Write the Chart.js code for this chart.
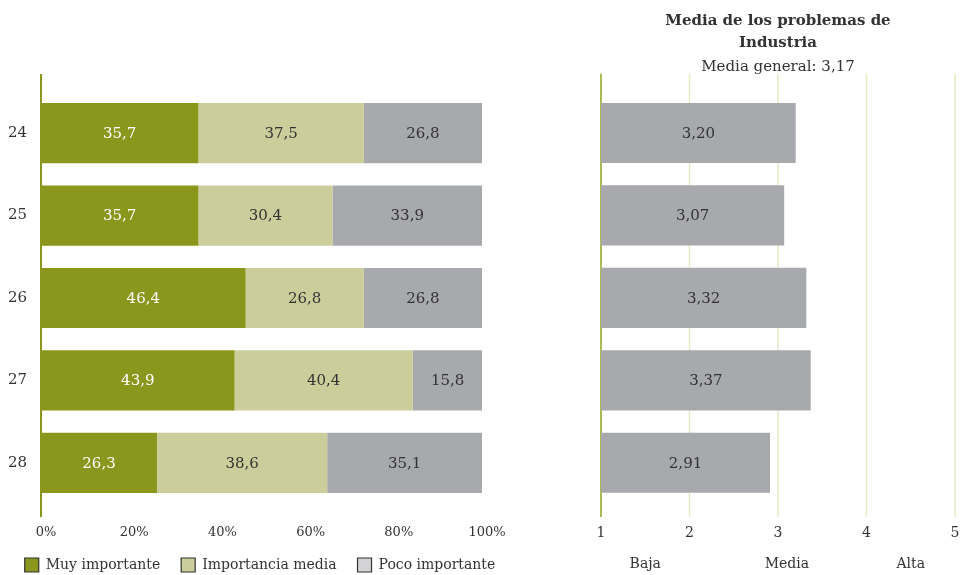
<!DOCTYPE html>
<html>
<head>
<meta charset="utf-8">
<script src="https://cdn.jsdelivr.net/npm/chart.js@4/dist/chart.umd.min.js"></script>
<style>
    body { margin: 0; background: #fff; }
    #wrap { position: relative; width: 965px; height: 575px; }
    #chartShares { position: absolute; left: 0; top: 0; }
    #chartMeans { position: absolute; left: 540px; top: 0; }
</style>
</head>
<body>
<div id="wrap">
    <canvas id="chartShares" width="520" height="575"></canvas>
    <canvas id="chartMeans" width="425" height="575"></canvas>
</div>
<script>
const problems = ["24", "25", "26", "27", "28"];
const muyImportante = [35.7, 35.7, 46.4, 43.9, 26.3];
const importanciaMedia = [37.5, 30.4, 26.8, 40.4, 38.6];
const pocoImportante = [26.8, 33.9, 26.8, 15.8, 35.1];
const medias = [3.20, 3.07, 3.32, 3.37, 2.91];
const mediaGeneral = 3.17;
const escalaTexto = ["Baja", "Media", "Alta"];
const escalaPos = [1.5, 3.1, 4.5];

const FONT = "'DejaVu Serif', serif";
const TEXT = "#333333";
Chart.defaults.font.family = FONT;
Chart.defaults.font.size = 14;
Chart.defaults.color = TEXT;

const coma = (v, d) => v.toFixed(d).replace(".", ",");

// values written in the middle of every bar
const barValues = {
    id: "barValues",
    afterDatasetsDraw(chart, args, opts) {
        const ctx = chart.ctx;
        ctx.save();
        ctx.font = "15px " + FONT;
        ctx.textAlign = "center";
        ctx.textBaseline = "middle";
        chart.data.datasets.forEach((ds, i) => {
            const meta = chart.getDatasetMeta(i);
            meta.data.forEach((bar, j) => {
                const p = bar.getProps(["x", "y", "base"], true);
                ctx.fillStyle = ds.labelColor || TEXT;
                ctx.fillText(coma(ds.data[j], opts.decimals), (p.x + p.base) / 2, p.y + 1);
            });
        });
        ctx.restore();
    }
};

// axis line and grid lines, a bit taller than the plot area
const axisLines = {
    id: "axisLines",
    beforeDatasetsDraw(chart, args, opts) {
        const { ctx, chartArea: a, scales } = chart;
        const top = a.top - 18, bottom = a.bottom + 13;
        ctx.save();
        ctx.lineWidth = 1.5;
        ctx.strokeStyle = opts.gridColor;
        (opts.grid || []).forEach(v => {
            const x = scales.x.getPixelForValue(v);
            ctx.beginPath();
            ctx.moveTo(x, top);
            ctx.lineTo(x, bottom);
            ctx.stroke();
        });
        ctx.lineWidth = 2;
        ctx.strokeStyle = opts.axisColor;
        ctx.beginPath();
        ctx.moveTo(a.left, top);
        ctx.lineTo(a.left, bottom);
        ctx.stroke();
        ctx.restore();
    }
};

// pulls the legend row a few pixels lower
const legendDrop = {
    id: "legendDrop",
    afterInit(chart, args, opts) {
        const legend = chart.legend;
        if (!legend) return;
        const fit = legend.fit;
        legend.fit = function () { fit.call(this); this.height -= opts.by; };
    }
};

const noSidePadding = s => { s.paddingLeft = 0; s.paddingRight = 0; };
const legendFill = ["#8b961d", "#cbce9b", "#d4d4d6"];

new Chart(document.getElementById("chartShares"), {
    type: "bar",
    data: {
        labels: problems,
        datasets: [
            { label: "Muy importante", data: muyImportante, backgroundColor: "#8b961d", labelColor: "#ffffff" },
            { label: "Importancia media", data: importanciaMedia, backgroundColor: "#cbce9b" },
            { label: "Poco importante", data: pocoImportante, backgroundColor: "#a8a9ad" }
        ]
    },
    options: {
        indexAxis: "y",
        responsive: false,
        animation: false,
        categoryPercentage: 1,
        barPercentage: 0.73,
        layout: { padding: { top: 92, right: 0, bottom: 0, left: 0 } },
        scales: {
            x: {
                stacked: true, min: 0, max: 100,
                grid: { display: false, drawTicks: false },
                border: { display: false },
                ticks: { stepSize: 20, padding: 21, labelOffset: 5, font: { size: 13 }, callback: v => v + "%" },
                afterFit: s => { s.height = 33; s.paddingLeft = 0; s.paddingRight = 38; }
            },
            y: {
                stacked: true,
                grid: { display: false, drawTicks: false },
                border: { display: false },
                ticks: { padding: 14, font: { size: 15 } },
                afterFit: s => { s.width = 41; }
            }
        },
        plugins: {
            tooltip: { enabled: false },
            legend: {
                position: "bottom",
                labels: {
                    boxWidth: 14, boxHeight: 14, padding: 21,
                    font: { size: 14 },
                    generateLabels: chart => chart.data.datasets.map((ds, i) => ({
                        text: ds.label,
                        fillStyle: legendFill[i],
                        strokeStyle: "#333333",
                        lineWidth: 1.2,
                        fontColor: TEXT,
                        datasetIndex: i
                    }))
                }
            },
            legendDrop: { by: 7 },
            barValues: { decimals: 1 },
            axisLines: { axisColor: "#8b961d" }
        }
    },
    plugins: [barValues, axisLines, legendDrop]
});

new Chart(document.getElementById("chartMeans"), {
    type: "bar",
    data: {
        labels: problems,
        datasets: [{ label: "Media", data: medias, backgroundColor: "#a8a9ad", base: 1 }]
    },
    options: {
        indexAxis: "y",
        responsive: false,
        animation: false,
        categoryPercentage: 1,
        barPercentage: 0.73,
        layout: { padding: { top: 0, right: 10, bottom: 0, left: 0 } },
        scales: {
            x: {
                min: 1, max: 5,
                grid: { display: false, drawTicks: false },
                border: { display: false },
                ticks: { stepSize: 1, padding: 21, font: { size: 14 } },
                afterFit: s => { s.height = 37; noSidePadding(s); }
            },
            x2: {
                type: "linear", position: "bottom", min: 1, max: 5,
                grid: { display: false, drawTicks: false },
                border: { display: false },
                afterBuildTicks: s => { s.ticks = escalaPos.map(v => ({ value: v })); },
                ticks: { padding: 15, autoSkip: false, callback: (v, i) => escalaTexto[i] },
                afterFit: s => { s.height = 34; noSidePadding(s); }
            },
            y: {
                grid: { display: false, drawTicks: false },
                border: { display: false },
                ticks: { display: false },
                afterFit: s => { s.width = 61; }
            }
        },
        plugins: {
            tooltip: { enabled: false },
            legend: { display: false },
            title: {
                display: true, fullSize: false,
                text: ["Media de los problemas de", "Industria"],
                font: { size: 15, weight: "bold", lineHeight: 1.45 },
                padding: { top: 10, bottom: 2 },
                color: TEXT
            },
            subtitle: {
                display: true, fullSize: false,
                text: "Media general: " + coma(mediaGeneral, 2),
                font: { size: 15, lineHeight: 1.45 },
                padding: { top: 1, bottom: 13.5 },
                color: TEXT
            },
            barValues: { decimals: 2 },
            axisLines: { axisColor: "#adb955", gridColor: "#e6eac6", grid: [2, 3, 4, 5] }
        }
    },
    plugins: [barValues, axisLines]
});
</script>
</body>
</html>
